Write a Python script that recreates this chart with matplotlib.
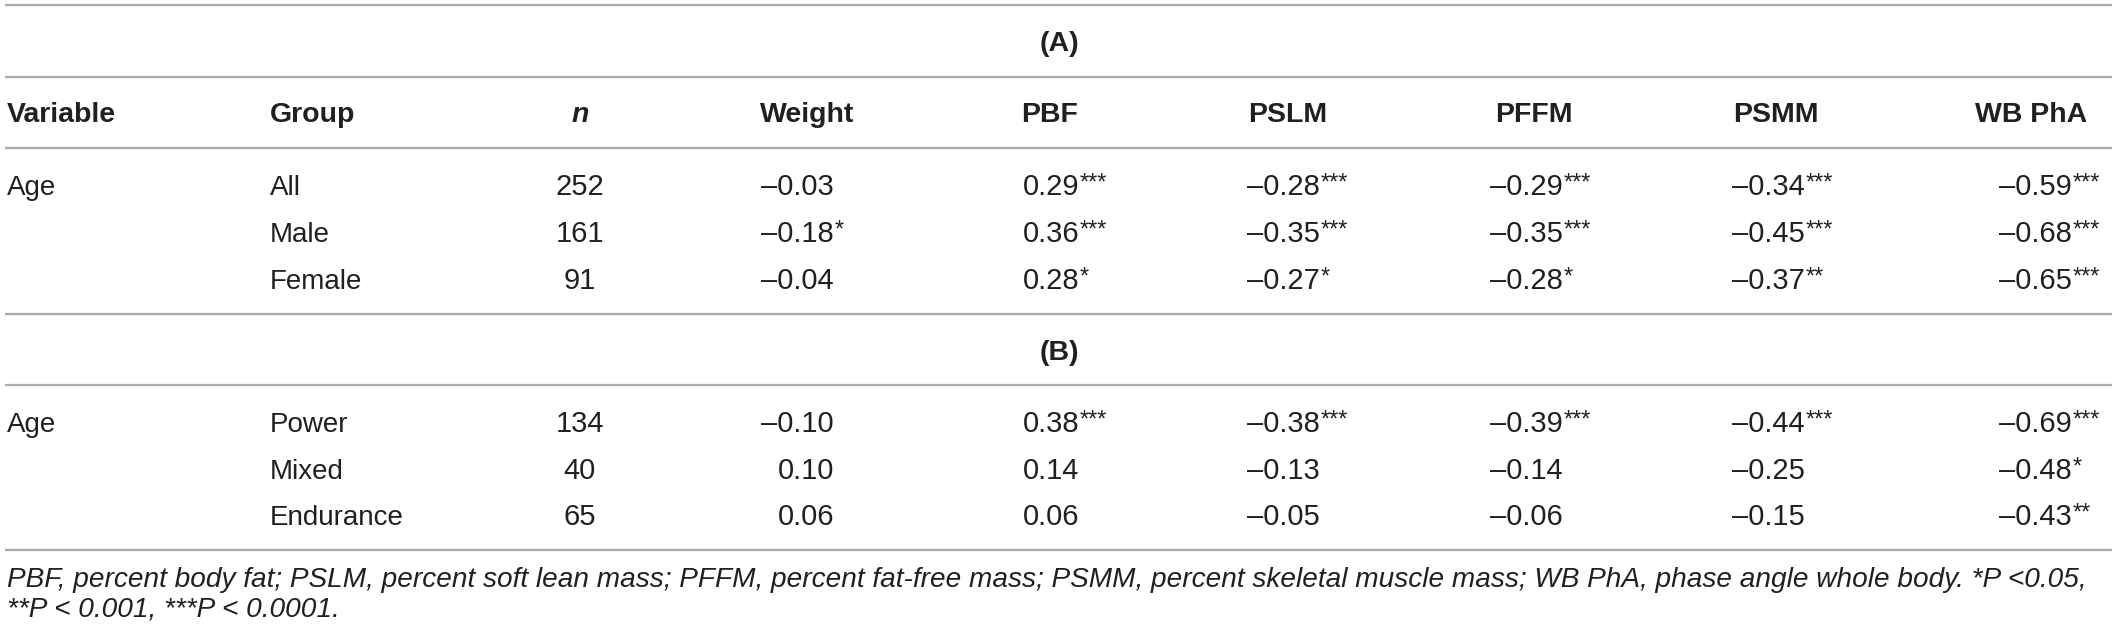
import matplotlib
matplotlib.use("Agg")
import matplotlib.pyplot as plt

# table content
variable = "Age"
groups_a = ["All", "Male", "Female"]
n_a = [252, 161, 91]
groups_b = ["Power", "Mixed", "Endurance"]
n_b = [134, 40, 65]

columns = ["Weight", "PBF", "PSLM", "PFFM", "PSMM", "WB PhA"]

# correlation coefficients, rows = groups, cols = columns
corr_a = [
    [-0.03, 0.29, -0.28, -0.29, -0.34, -0.59],
    [-0.18, 0.36, -0.35, -0.35, -0.45, -0.68],
    [-0.04, 0.28, -0.27, -0.28, -0.37, -0.65],
]
sig_a = [
    ["", "***", "***", "***", "***", "***"],
    ["*", "***", "***", "***", "***", "***"],
    ["", "*", "*", "*", "**", "***"],
]
corr_b = [
    [-0.10, 0.38, -0.38, -0.39, -0.44, -0.69],
    [0.10, 0.14, -0.13, -0.14, -0.25, -0.48],
    [0.06, 0.06, -0.05, -0.06, -0.15, -0.43],
]
sig_b = [
    ["", "***", "***", "***", "***", "***"],
    ["", "", "", "", "", "*"],
    ["", "", "", "", "", "**"],
]

footnote = [
    "PBF, percent body fat; PSLM, percent soft lean mass; PFFM, percent fat-free mass; "
    "PSMM, percent skeletal muscle mass; WB PhA, phase angle whole body. *P <0.05,",
    "**P < 0.001, ***P < 0.0001.",
]

W, H = 2118, 635
TXT = "#231f20"
LINE = "#ababab"
FS = 20
FS_NUM = 21
FS_HEAD = 20.5
FONT = "Liberation Sans"

fig = plt.figure(figsize=(W / 100, H / 100), dpi=100)
ax = fig.add_axes([0, 0, 1, 1])
ax.set_xlim(0, W)
ax.set_ylim(H, 0)
ax.axis("off")

# x layout (pixels)
x_var = 7
x_group = 270
x_n = 580
head_x = [807, 1050, 1288, 1534, 1776, 2087]
num_right = [834, 1079, 1320, 1563, 1805, 2072]

# horizontal rules
for y in [5, 77, 148, 314, 385, 550]:
    ax.plot([5, 2112], [y, y], color=LINE, lw=1.6, solid_capstyle="butt")


def txt(x, y, s, **kw):
    # y is the baseline in pixels
    kw.setdefault("fontsize", FS)
    kw.setdefault("color", TXT)
    kw.setdefault("family", FONT)
    kw.setdefault("va", "baseline")
    ax.text(x, y, s, **kw)


# section titles
txt(1059, 51, "(A)", ha="center", weight="bold", fontsize=FS_HEAD)
txt(1059, 360, "(B)", ha="center", weight="bold", fontsize=FS_HEAD)

# header
y_head = 122
txt(x_var, y_head, "Variable", ha="left", weight="bold", fontsize=FS_HEAD)
txt(x_group, y_head, "Group", ha="left", weight="bold", fontsize=FS_HEAD)
txt(x_n, y_head, "n", ha="center", weight="bold", style="italic", fontsize=FS_HEAD)
for j, c in enumerate(columns):
    al = "right" if j == len(columns) - 1 else "center"
    txt(head_x[j], y_head, c, ha=al, weight="bold", fontsize=FS_HEAD)


def fmt(v):
    return f"{v:.2f}".replace("-", "\u2013")


def draw_block(rows_y, groups, ns, corr, sig):
    txt(x_var, rows_y[0], variable, ha="left")
    for i, y in enumerate(rows_y):
        txt(x_group, y, groups[i], ha="left")
        txt(x_n, y, str(ns[i]), ha="center", fontsize=FS_NUM)
        for j in range(len(columns)):
            txt(num_right[j], y, fmt(corr[i][j]), ha="right", fontsize=FS_NUM)
            if sig[i][j]:
                txt(num_right[j] + 1, y - 5, sig[i][j], ha="left", fontsize=17)


draw_block([195, 242, 289], groups_a, n_a, corr_a, sig_a)
draw_block([432, 479, 525], groups_b, n_b, corr_b, sig_b)

# footnote
txt(x_var, 587, footnote[0], ha="left", style="italic", fontsize=20.2)
txt(x_var, 617, footnote[1], ha="left", style="italic", fontsize=20.2)

fig.savefig("out.png", dpi=100)
